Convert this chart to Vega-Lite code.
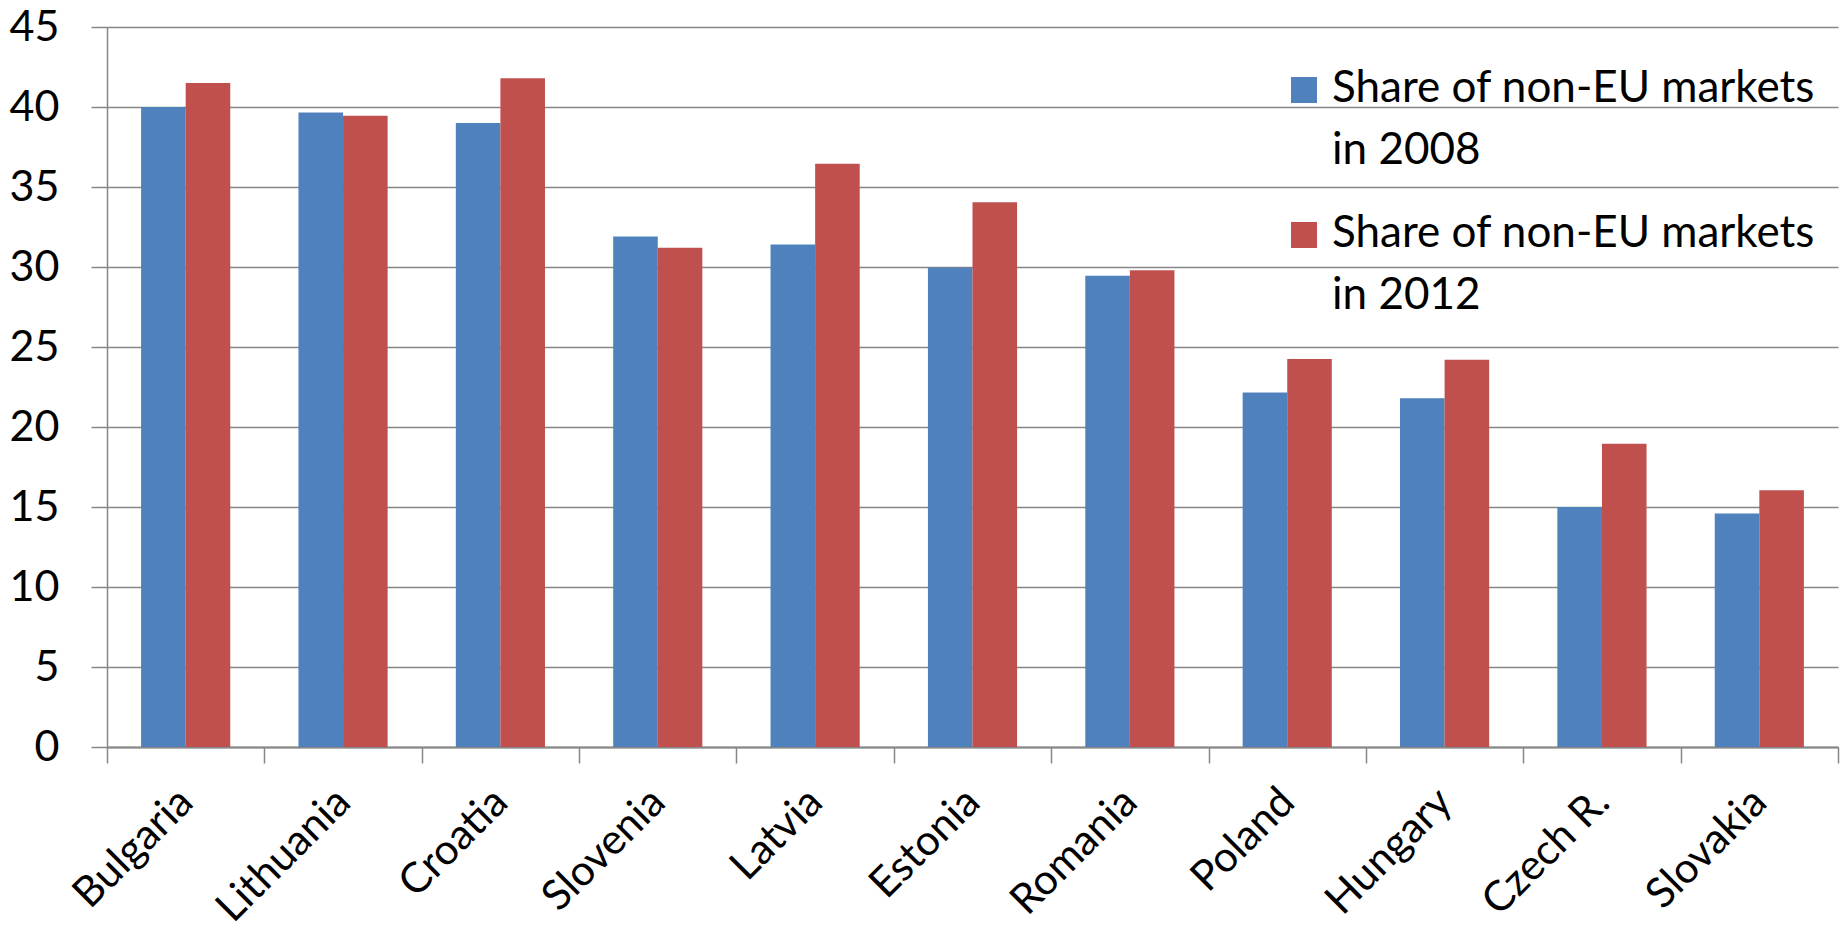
{
  "$schema": "https://vega.github.io/schema/vega-lite/v6.json",
  "width": 1731,
  "height": 720,
  "autosize": {"type": "none"},
  "padding": {"left": 107, "top": 27, "right": 2, "bottom": 189},
  "background": "white",
  "config": {"view": {"stroke": null}, "font": "Lato"},
  "data": {
    "values": [
      {"country": "Bulgaria", "series": "Share of non-EU markets in 2008", "value": 40.0},
      {"country": "Bulgaria", "series": "Share of non-EU markets in 2012", "value": 41.5},
      {"country": "Lithuania", "series": "Share of non-EU markets in 2008", "value": 39.65},
      {"country": "Lithuania", "series": "Share of non-EU markets in 2012", "value": 39.45},
      {"country": "Croatia", "series": "Share of non-EU markets in 2008", "value": 39.0},
      {"country": "Croatia", "series": "Share of non-EU markets in 2012", "value": 41.8},
      {"country": "Slovenia", "series": "Share of non-EU markets in 2008", "value": 31.9},
      {"country": "Slovenia", "series": "Share of non-EU markets in 2012", "value": 31.2},
      {"country": "Latvia", "series": "Share of non-EU markets in 2008", "value": 31.4},
      {"country": "Latvia", "series": "Share of non-EU markets in 2012", "value": 36.45},
      {"country": "Estonia", "series": "Share of non-EU markets in 2008", "value": 29.95},
      {"country": "Estonia", "series": "Share of non-EU markets in 2012", "value": 34.05},
      {"country": "Romania", "series": "Share of non-EU markets in 2008", "value": 29.45},
      {"country": "Romania", "series": "Share of non-EU markets in 2012", "value": 29.8},
      {"country": "Poland", "series": "Share of non-EU markets in 2008", "value": 22.15},
      {"country": "Poland", "series": "Share of non-EU markets in 2012", "value": 24.25},
      {"country": "Hungary", "series": "Share of non-EU markets in 2008", "value": 21.8},
      {"country": "Hungary", "series": "Share of non-EU markets in 2012", "value": 24.2},
      {"country": "Czech R.", "series": "Share of non-EU markets in 2008", "value": 15.0},
      {"country": "Czech R.", "series": "Share of non-EU markets in 2012", "value": 18.95},
      {"country": "Slovakia", "series": "Share of non-EU markets in 2008", "value": 14.6},
      {"country": "Slovakia", "series": "Share of non-EU markets in 2012", "value": 16.05}
    ]
  },
  "mark": {"type": "bar"},
  "encoding": {
    "x": {
      "field": "country",
      "type": "nominal",
      "sort": null,
      "scale": {"paddingInner": 0, "paddingOuter": 0},
      "axis": {
        "title": null,
        "labelAngle": -45,
        "labelAlign": "right",
        "labelBaseline": "middle",
        "labelFontSize": 42,
        "labelColor": "black",
        "labelPadding": 32,
        "tickBand": "extent",
        "tickSize": 16,
        "tickColor": "#868686",
        "tickWidth": 1.5,
        "domainColor": "#868686",
        "domainWidth": 2,
        "grid": false
      }
    },
    "xOffset": {
      "field": "series",
      "type": "nominal",
      "scale": {"paddingInner": 0, "paddingOuter": 0.765}
    },
    "y": {
      "field": "value",
      "type": "quantitative",
      "scale": {"domain": [0, 45], "nice": false},
      "axis": {
        "title": null,
        "values": [0, 5, 10, 15, 20, 25, 30, 35, 40, 45],
        "labelFontSize": 43,
        "labelColor": "black",
        "labelPadding": 32,
        "tickSize": 16,
        "tickColor": "#868686",
        "tickWidth": 1.5,
        "domainColor": "#868686",
        "domainWidth": 1.5,
        "gridColor": "#868686",
        "gridWidth": 1.5,
        "gridOpacity": 1
      }
    },
    "color": {
      "field": "series",
      "type": "nominal",
      "scale": {"range": ["#4F81BD", "#C0504D"]},
      "legend": {
        "title": null,
        "orient": "none",
        "legendX": 1175,
        "legendY": 41,
        "padding": 0,
        "symbolType": "square",
        "symbolSize": 676,
        "symbolStrokeWidth": 0,
        "labelFontSize": 44,
        "labelColor": "black",
        "labelOffset": 6,
        "labelLimit": 700,
        "labelBaseline": "top",
        "rowPadding": 39,
        "labelExpr": "[substring(datum.label, 0, 23), substring(datum.label, 24)]",
        "encode": {
          "labels": {
            "update": {
              "lineHeight": {"value": 62},
              "dy": {"value": -23}
            }
          }
        }
      }
    }
  }
}
